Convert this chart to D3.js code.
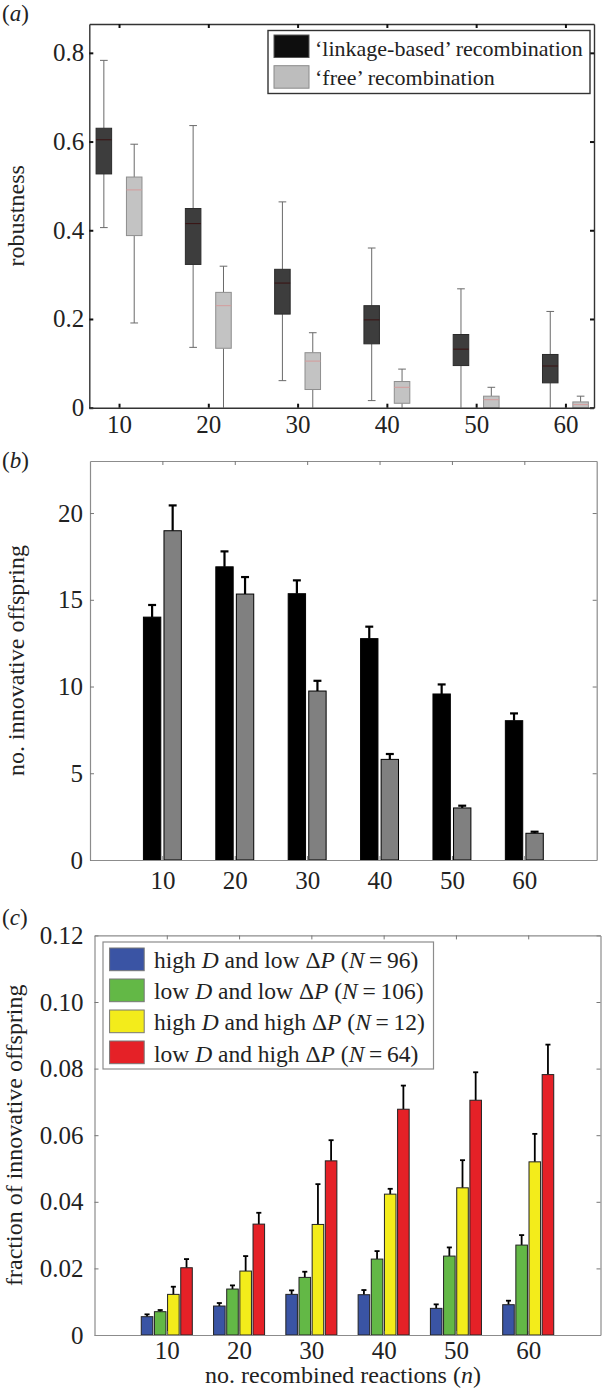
<!DOCTYPE html>
<html><head><meta charset="utf-8">
<script src="https://cdn.jsdelivr.net/npm/d3@7"></script>
<style>
body{margin:0;background:#fff}
svg{display:block}
text{font-family:"Liberation Serif","Times New Roman",serif;fill:#222}
</style>
</head><body>
<svg id="chart" width="604" height="1391"></svg>
<script>
// ---------- data ----------
const nValues = [10, 20, 30, 40, 50, 60];

// panel (a): box plots of robustness
const linkLow  = [0.406, 0.136, 0.061, 0.016, 0.000, 0.000];
const linkQ1   = [0.527, 0.323, 0.211, 0.144, 0.095, 0.056];
const linkMed  = [0.604, 0.415, 0.281, 0.198, 0.132, 0.094];
const linkQ3   = [0.630, 0.449, 0.312, 0.230, 0.165, 0.120];
const linkHigh = [0.783, 0.636, 0.464, 0.360, 0.268, 0.217];
const freeLow  = [0.191, 0.000, 0.000, 0.000, 0.000, 0.000];
const freeQ1   = [0.388, 0.134, 0.041, 0.010, 0.000, 0.000];
const freeMed  = [0.491, 0.230, 0.105, 0.046, 0.018, 0.007];
const freeQ3   = [0.520, 0.260, 0.124, 0.059, 0.026, 0.013];
const freeHigh = [0.594, 0.319, 0.169, 0.087, 0.046, 0.026];
const legendA  = ["\u2018linkage-based\u2019 recombination", "\u2018free\u2019 recombination"];
const ticksA   = [0, 0.2, 0.4, 0.6, 0.8];

// panel (b): number of innovative offspring
const linkMean = [14.0, 16.9, 15.35, 12.76, 9.57, 8.03];
const linkErr  = [0.70, 0.89, 0.77, 0.69, 0.55, 0.42];
const freeMean = [18.98, 15.33, 9.74, 5.80, 3.00, 1.54];
const freeErr  = [1.46, 0.98, 0.59, 0.31, 0.13, 0.09];
const ticksB   = [0, 5, 10, 15, 20];

// panel (c): fraction of innovative offspring
const blueMean   = [0.0055, 0.0087, 0.0122, 0.0121, 0.0080, 0.0091];
const blueErr    = [0.0007, 0.0009, 0.0012, 0.0014, 0.0012, 0.0012];
const greenMean  = [0.0070, 0.0138, 0.0173, 0.0228, 0.0237, 0.0270];
const greenErr   = [0.0005, 0.0011, 0.0017, 0.0024, 0.0026, 0.0030];
const yellowMean = [0.0122, 0.0192, 0.0332, 0.0423, 0.0442, 0.0520];
const yellowErr  = [0.0023, 0.0045, 0.0121, 0.0016, 0.0083, 0.0084];
const redMean    = [0.0202, 0.0333, 0.0523, 0.0678, 0.0705, 0.0782];
const redErr     = [0.0026, 0.0034, 0.0062, 0.0071, 0.0084, 0.0090];
const groupNames = [
  [["high ",""],["D","i"],[" and low \u0394",""],["P","i"],[" (",""],["N","i"],["\u2009=\u200996)",""]],
  [["low ",""],["D","i"],[" and low \u0394",""],["P","i"],[" (",""],["N","i"],["\u2009=\u2009106)",""]],
  [["high ",""],["D","i"],[" and high \u0394",""],["P","i"],[" (",""],["N","i"],["\u2009=\u200912)",""]],
  [["low ",""],["D","i"],[" and high \u0394",""],["P","i"],[" (",""],["N","i"],["\u2009=\u200964)",""]]
];
const ticksC = [0, 0.02, 0.04, 0.06, 0.08, 0.10, 0.12];

// ---------- drawing ----------
const svg = d3.select("#chart");
const FS = 25;

function axes(x, y, cfg) {
  const [x0, x1] = x.range();
  const [y0, y1] = y.range();
  const g = svg.append("g");
  const st = sel => {
    sel.selectAll(".domain").attr("stroke", cfg.frame).attr("stroke-width", cfg.fw);
    sel.selectAll(".tick line").attr("stroke", cfg.tick).attr("stroke-width", cfg.tw);
    sel.selectAll("text").style("font-size", FS + "px")
      .style("font-family", '"Liberation Serif","Times New Roman",serif').attr("fill", "#222");
  };
  g.append("g").attr("transform", `translate(${x0},0)`)
    .call(d3.axisLeft(y).tickValues(cfg.yTicks).tickFormat(cfg.yFmt).tickSize(-4).tickSizeOuter(0).tickPadding(cfg.yPad)).call(st);
  g.append("g").attr("transform", `translate(${x1},0)`)
    .call(d3.axisRight(y).tickValues(cfg.yTicks).tickFormat("").tickSize(-4).tickSizeOuter(0)).call(st);
  g.append("g").attr("transform", `translate(0,${y0})`)
    .call(d3.axisBottom(x).tickValues(nValues).tickSize(-4).tickSizeOuter(0).tickPadding(cfg.xPad)).call(st);
  g.append("g").attr("transform", `translate(0,${y1})`)
    .call(d3.axisTop(x).tickValues(nValues).tickFormat("").tickSize(-4).tickSizeOuter(0)).call(st);
  svg.append("text")
    .attr("transform", `translate(${cfg.labX},${(y0 + y1) / 2}) rotate(-90)`)
    .attr("text-anchor", "middle").style("font-size", "24px").text(cfg.yLabel);
}

function panelLabel(letter, yb) {
  const t = svg.append("text").attr("x", 2).attr("y", yb).style("font-size", "23px");
  t.append("tspan").text("(");
  t.append("tspan").style("font-style", "italic").text(letter);
  t.append("tspan").text(")");
}

// ===== panel (a) =====
{
  const x = d3.scaleLinear().domain([6.67, 63.2]).range([89.3, 594]);
  const y = d3.scaleLinear().domain([0, 0.865]).range([407.7, 24]);
  panelLabel("a", 21);
  const off = 1.7, half = 0.87, cap = 0.43;
  const series = [
    {lo: linkLow, q1: linkQ1, md: linkMed, q3: linkQ3, hi: linkHigh, s: -1,
     fill: "#3d3d3d", stroke: "#2b2b2b", med: "#3a1212"},
    {lo: freeLow, q1: freeQ1, md: freeMed, q3: freeQ3, hi: freeHigh, s: 1,
     fill: "#c3c3c3", stroke: "#8e8e8e", med: "#d49c9c"}
  ];
  const g = svg.append("g");
  series.forEach(S => {
    nValues.forEach((n, i) => {
      const c = n + S.s * off;
      g.append("line").attr("x1", x(c)).attr("x2", x(c)).attr("y1", y(S.hi[i])).attr("y2", y(S.q3[i]))
        .attr("stroke", "#6a6a6a").attr("stroke-width", 1);
      g.append("line").attr("x1", x(c)).attr("x2", x(c)).attr("y1", y(S.q1[i])).attr("y2", y(S.lo[i]))
        .attr("stroke", "#6a6a6a").attr("stroke-width", 1);
      g.append("line").attr("x1", x(c - cap)).attr("x2", x(c + cap)).attr("y1", y(S.hi[i])).attr("y2", y(S.hi[i]))
        .attr("stroke", "#6a6a6a").attr("stroke-width", 1);
      if (S.lo[i] > 0)
        g.append("line").attr("x1", x(c - cap)).attr("x2", x(c + cap)).attr("y1", y(S.lo[i])).attr("y2", y(S.lo[i]))
          .attr("stroke", "#6a6a6a").attr("stroke-width", 1);
      g.append("rect").attr("x", x(c - half)).attr("width", x(c + half) - x(c - half))
        .attr("y", y(S.q3[i])).attr("height", Math.max(0, y(S.q1[i]) - y(S.q3[i])))
        .attr("fill", S.fill).attr("stroke", S.stroke).attr("stroke-width", 1);
      g.append("line").attr("x1", x(c - half)).attr("x2", x(c + half)).attr("y1", y(S.md[i])).attr("y2", y(S.md[i]))
        .attr("stroke", S.med).attr("stroke-width", 1);
    });
  });
  axes(x, y, {yTicks: ticksA, yFmt: v => v === 0 ? "0" : d3.format(".1f")(v), yPad: 5, xPad: 8,
    frame: "#333", fw: 1.4, tick: "#111", tw: 2, labX: 24, yLabel: "robustness"});
  const lg = svg.append("g");
  lg.append("rect").attr("x", 268).attr("y", 30.5).attr("width", 322).attr("height", 63)
    .attr("fill", "#fff").attr("stroke", "#333").attr("stroke-width", 1.4);
  const pf = ["#0e0e0e", "#bdbdbd"], ps = ["#555", "#8a8a8a"];
  legendA.forEach((t, i) => {
    lg.append("rect").attr("x", 274).attr("y", 35 + i * 30.7).attr("width", 35).attr("height", 22.5)
      .attr("fill", pf[i]).attr("stroke", ps[i]).attr("stroke-width", 1);
    lg.append("text").attr("x", 315).attr("y", 56 + i * 29).style("font-size", "22px").text(t);
  });
}

// ===== panel (b) =====
{
  const x = d3.scaleLinear().domain([0, 70]).range([90, 596.7]);
  const y = d3.scaleLinear().domain([0, 23]).range([860, 461]);
  panelLabel("b", 468);
  const off = 1.42, half = 1.2, cap = 0.55;
  const series = [
    {m: linkMean, e: linkErr, s: -1, fill: "#000"},
    {m: freeMean, e: freeErr, s: 1, fill: "#808080"}
  ];
  const g = svg.append("g");
  series.forEach(S => {
    nValues.forEach((n, i) => {
      const c = n + S.s * off;
      g.append("line").attr("x1", x(c)).attr("x2", x(c)).attr("y1", y(S.m[i])).attr("y2", y(S.m[i] + S.e[i]))
        .attr("stroke", "#000").attr("stroke-width", 2.2);
      g.append("line").attr("x1", x(c - cap)).attr("x2", x(c + cap)).attr("y1", y(S.m[i] + S.e[i])).attr("y2", y(S.m[i] + S.e[i]))
        .attr("stroke", "#000").attr("stroke-width", 2.2);
      g.append("rect").attr("x", x(c - half)).attr("width", x(c + half) - x(c - half))
        .attr("y", y(S.m[i])).attr("height", y(0) - y(S.m[i]))
        .attr("fill", S.fill).attr("stroke", "#000").attr("stroke-width", 1);
    });
  });
  axes(x, y, {yTicks: ticksB, yFmt: d3.format("d"), yPad: 7, xPad: 11,
    frame: "#8c8c8c", fw: 1.2, tick: "#777", tw: 1, labX: 24, yLabel: "no. innovative offspring"});
}

// ===== panel (c) =====
{
  const x = d3.scaleLinear().domain([0, 70]).range([94.5, 600.5]);
  const y = d3.scaleLinear().domain([0, 0.12]).range([1335, 935.4]);
  panelLabel("c", 925);
  const offs = [-2.73, -0.91, 0.91, 2.73], half = 0.8, cap = 0.35;
  const series = [
    {m: blueMean, e: blueErr, fill: "#3a54a4"},
    {m: greenMean, e: greenErr, fill: "#63b846"},
    {m: yellowMean, e: yellowErr, fill: "#f3ec1b"},
    {m: redMean, e: redErr, fill: "#e52127"}
  ];
  const g = svg.append("g");
  series.forEach((S, k) => {
    nValues.forEach((n, i) => {
      const c = n + offs[k];
      g.append("line").attr("x1", x(c)).attr("x2", x(c)).attr("y1", y(S.m[i])).attr("y2", y(S.m[i] + S.e[i]))
        .attr("stroke", "#000").attr("stroke-width", 1.8);
      g.append("line").attr("x1", x(c - cap)).attr("x2", x(c + cap)).attr("y1", y(S.m[i] + S.e[i])).attr("y2", y(S.m[i] + S.e[i]))
        .attr("stroke", "#000").attr("stroke-width", 1.8);
      g.append("rect").attr("x", x(c - half)).attr("width", x(c + half) - x(c - half))
        .attr("y", y(S.m[i])).attr("height", y(0) - y(S.m[i]))
        .attr("fill", S.fill).attr("stroke", "#222").attr("stroke-width", 1);
    });
  });
  axes(x, y, {yTicks: ticksC, yFmt: v => v === 0 ? "0" : d3.format(".2f")(v), yPad: 11, xPad: 6,
    frame: "#8c8c8c", fw: 1.2, tick: "#777", tw: 1, labX: 22, yLabel: "fraction of innovative offspring"});
  const xl = svg.append("text").attr("x", 343).attr("y", 1383).attr("text-anchor", "middle").style("font-size", "24px");
  xl.append("tspan").text("no. recombined reactions (");
  xl.append("tspan").style("font-style", "italic").text("n");
  xl.append("tspan").text(")");
  const lg = svg.append("g");
  lg.append("rect").attr("x", 103).attr("y", 942).attr("width", 330.5).attr("height", 127)
    .attr("fill", "#fff").attr("stroke", "#8c8c8c").attr("stroke-width", 1.2);
  series.forEach((S, k) => {
    lg.append("rect").attr("x", 109.6).attr("y", 948 + k * 31).attr("width", 34.6).attr("height", 22.7)
      .attr("fill", S.fill).attr("stroke", "#777").attr("stroke-width", 1);
    const t = lg.append("text").attr("x", 154).attr("y", 968 + k * 31.2).style("font-size", "23.5px");
    groupNames[k].forEach(([s, f]) => {
      const ts = t.append("tspan").text(s);
      if (f === "i") ts.style("font-style", "italic");
    });
  });
}
</script>
</body></html>
